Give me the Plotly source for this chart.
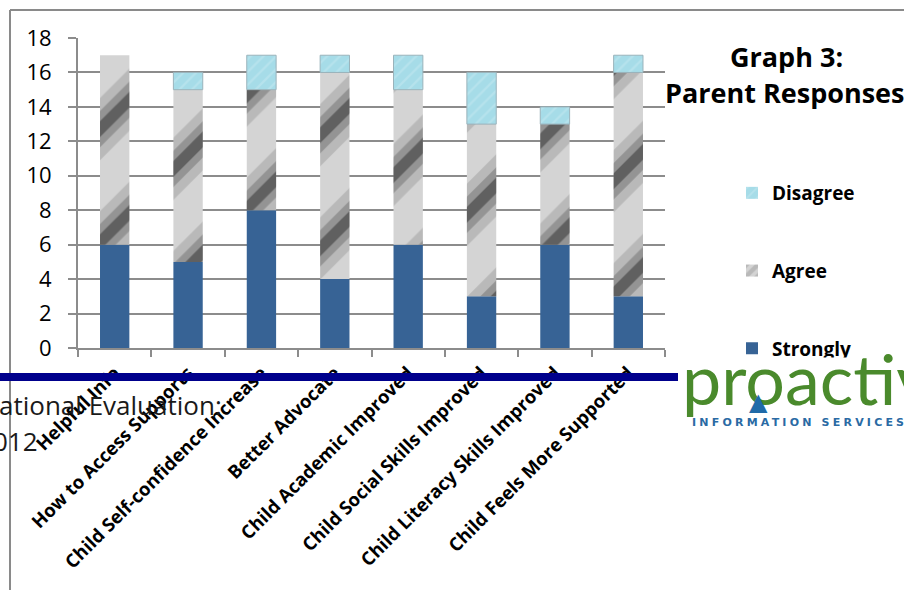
import plotly.graph_objects as go

# Survey categories and response counts
categories = [
    "Helpful Info",
    "How to Access Supports",
    "Child Self-confidence Increase",
    "Better Advocate",
    "Child Academic Improved",
    "Child Social Skills Improved",
    "Child Literacy Skills Improved",
    "Child Feels More Supported",
]
strongly = [6, 5, 8, 4, 6, 3, 6, 3]
agree = [11, 10, 7, 12, 9, 10, 7, 13]
disagree = [0, 1, 2, 1, 2, 3, 1, 1]

y_ticks = [0, 2, 4, 6, 8, 10, 12, 14, 16, 18]

# Plot-area geometry in page pixels (used for paper-coordinate placement)
W_PAGE, H_PAGE = 904, 590
L, R, T, B = 78, 665, 38, 348


def px(xp):
    return (xp - L) / (R - L)


def py(yp):
    return (B - yp) / (B - T)


agree_base = strongly
disagree_base = [s + a for s, a in zip(strongly, agree)]

LATO = "Lato"
OPEN = "Open Sans"
GRID = "#8c8c8c"
BAR_W = 0.4
STRIPE = 80

fig = go.Figure()

fig.add_trace(go.Bar(
    x=categories, y=strongly, base=[0] * len(strongly), width=BAR_W,
    name="Strongly", legendgroup="s", legendrank=3,
    marker=dict(color="#376395", line=dict(width=0)),
))

# Agree: light grey with dark diagonal bands, built up in a few layers
fig.add_trace(go.Bar(
    x=categories, y=agree, base=agree_base, width=BAR_W,
    name="Agree", legendgroup="a", legendrank=2,
    marker=dict(color="#d4d4d4", line=dict(width=0),
                pattern=dict(shape="/", fillmode="overlay", size=STRIPE,
                             solidity=0.55, fgcolor="rgba(0,0,0,0.25)")),
))
for sol, alpha in [(0.32, 0.4), (0.14, 0.7)]:
    fig.add_trace(go.Bar(
        x=categories, y=agree, base=agree_base, width=BAR_W,
        showlegend=False, hoverinfo="skip", legendgroup="a",
        marker=dict(color="rgba(0,0,0,0)", line=dict(width=0),
                    pattern=dict(shape="/", fillmode="overlay", size=STRIPE,
                                 solidity=sol, fgcolor=f"rgba(0,0,0,{alpha})")),
    ))

fig.add_trace(go.Bar(
    x=categories, y=disagree, base=disagree_base, width=BAR_W,
    name="Disagree", legendgroup="d", legendrank=1,
    marker=dict(color="#a6dce8",
                line=dict(width=[0 if v == 0 else 1 for v in disagree], color="#9ab3bb"),
                pattern=dict(shape="/", fillmode="overlay", size=9,
                             solidity=0.25, fgcolor="rgba(255,255,255,0.35)")),
))

shapes = [
    # outer frame
    dict(type="line", xref="paper", yref="paper",
         x0=px(10), x1=px(W_PAGE + 2), y0=py(10), y1=py(10),
         line=dict(color="#8a8a8a", width=2)),
    dict(type="line", xref="paper", yref="paper",
         x0=px(10), x1=px(10), y0=py(10), y1=py(H_PAGE + 2),
         line=dict(color="#8a8a8a", width=2)),
    # navy rule across the slide
    dict(type="line", xref="paper", yref="paper", layer="above",
         x0=px(-2), x1=px(678), y0=py(377), y1=py(377),
         line=dict(color="#00008c", width=8)),
]

annotations = [
    dict(text="<b>Graph 3:</b>", xref="paper", yref="paper",
         x=px(786), y=py(56), xanchor="center", yanchor="middle", showarrow=False,
         font=dict(family=OPEN, size=27, color="#000000")),
    dict(text="<b>Parent Responses</b>", xref="paper", yref="paper",
         x=px(785), y=py(93), xanchor="center", yanchor="middle", showarrow=False,
         font=dict(family=OPEN, size=27, color="#000000")),
    dict(text="ational Evaluation:", xref="paper", yref="paper",
         x=px(-3), y=py(405), xanchor="left", yanchor="middle", showarrow=False,
         font=dict(family=OPEN, size=26, color="#1a1a1a")),
    dict(text="012", xref="paper", yref="paper",
         x=px(-9), y=py(441), xanchor="left", yanchor="middle", showarrow=False,
         font=dict(family=OPEN, size=26, color="#1a1a1a")),
    # logo backing panel
    dict(text=" ", xref="paper", yref="paper", x=px(680), y=py(357),
         xanchor="left", yanchor="top", showarrow=False,
         width=240, height=80, bgcolor="#ffffff"),
    dict(text="proactive", xref="paper", yref="paper",
         x=px(680), y=py(378), xanchor="left", yanchor="middle", showarrow=False,
         font=dict(family=LATO, size=70, color="#4a8a2c")),
    dict(text="▲", xref="paper", yref="paper",
         x=px(759), y=py(402), xanchor="center", yanchor="middle", showarrow=False,
         font=dict(family="DejaVu Sans", size=24, color="#1f6aa8")),
    dict(text='<b><span style="letter-spacing:3.2px">INFORMATION SERVICES</span></b>',
         xref="paper", yref="paper",
         x=px(690), y=py(422), xanchor="left", yanchor="middle", showarrow=False,
         font=dict(family="DejaVu Sans", size=11, color="#2a6aa4")),
]

fig.update_layout(
    width=W_PAGE, height=H_PAGE,
    margin=dict(l=L, r=W_PAGE - R, t=T, b=H_PAGE - B, autoexpand=False),
    paper_bgcolor="#ffffff", plot_bgcolor="#ffffff",
    barmode="overlay", bargap=0.6,
    showlegend=True,
    legend=dict(x=px(732), y=py(174), xanchor="left", yanchor="top",
                font=dict(family=OPEN, size=19, color="#000000", weight="bold"),
                bgcolor="rgba(0,0,0,0)", tracegroupgap=50, traceorder="grouped",
                itemwidth=30),
    shapes=shapes, annotations=annotations,
    xaxis=dict(
        type="category", showgrid=False, showline=True, linecolor=GRID, linewidth=2,
        ticks="outside", tickson="boundaries", ticklen=7, tickcolor=GRID, tickwidth=2,
        tickangle=-45, ticklabelstandoff=5,
        tickfont=dict(family=OPEN, size=18.5, color="#000000", weight="bold"),
        range=[-0.5, len(categories) - 0.5],
    ),
    yaxis=dict(
        range=[0, 18], tickvals=y_ticks, showgrid=True, gridcolor=GRID, gridwidth=1.5,
        showline=True, linecolor=GRID, linewidth=2, zeroline=False,
        ticks="outside", ticklen=8, tickcolor=GRID, tickwidth=1.5,
        ticklabelstandoff=12,
        tickfont=dict(family=OPEN, size=22, color="#000000"),
    ),
)

fig.write_html("out.html")
